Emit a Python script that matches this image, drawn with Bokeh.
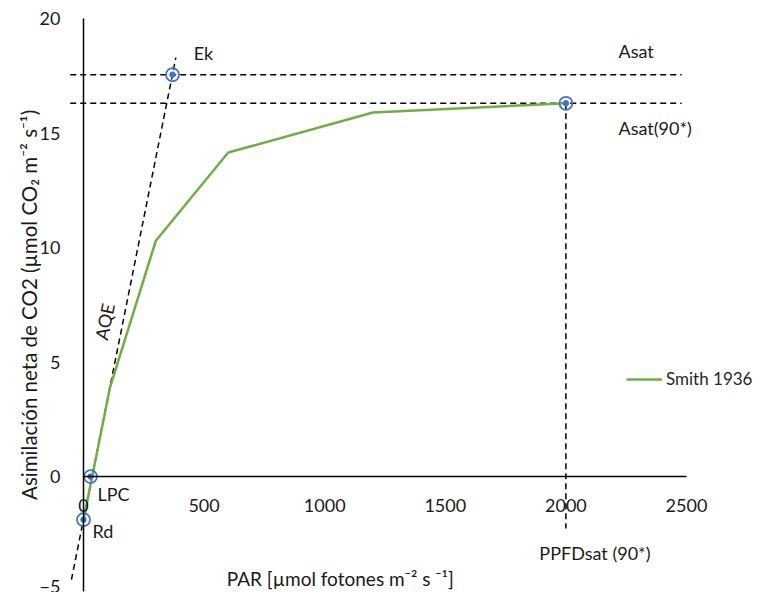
from bokeh.plotting import figure
from bokeh.models import Range1d, FixedTicker, LinearAxis, Legend, LegendItem
from bokeh.core.properties import value
from bokeh.embed import file_html
from bokeh.resources import INLINE

# ---- data ----
par = [0, 110, 300, 600, 1200, 2000]
a_net = [-1.9, 3.9, 10.3, 14.15, 15.9, 16.3]

x_ticks = [0, 500, 1000, 1500, 2000, 2500]
y_ticks = [-5, 0, 5, 10, 15, 20]

asat = 17.55
asat90 = 16.3
ppfdsat = 2000
ek = (369, 17.55)
lpc = (29, 0.0)
rd = (0, -1.88)

aqe_x = [-50, 383]
aqe_y = [-4.5, 18.3]
hline_x = [-55, 2480]
vline_y = [16.3, -2.27]

FONT = "Lato"
BLUE = "#4472C4"
GREEN = "#70AD47"
TXT = "#1a1a1a"

p = figure(width=764, height=592, x_range=Range1d(-344.1, 2823.4), y_range=Range1d(-5.06, 20.79),
           x_axis_location=None, y_axis_location=None, min_border=0,
           toolbar_location=None, output_backend="svg", outline_line_color=None)
p.xgrid.visible = False
p.ygrid.visible = False

xaxis = LinearAxis(fixed_location=0, ticker=FixedTicker(ticks=x_ticks), bounds=(0, 2500))
yaxis = LinearAxis(fixed_location=0, ticker=FixedTicker(ticks=y_ticks), bounds=(-5, 20))
for ax in (xaxis, yaxis):
    ax.axis_line_color = "black"
    ax.axis_line_width = 1.5
    ax.major_tick_line_color = None
    ax.minor_tick_line_color = None
    ax.major_label_text_font = FONT
    ax.major_label_text_font_size = "18px"
    ax.major_label_text_color = TXT
xaxis.major_label_standoff = 16
yaxis.major_label_standoff = 17
p.add_layout(xaxis, "below")
p.add_layout(yaxis, "left")

# guide lines
p.line(hline_x, [asat, asat], line_color="black", line_width=1.5, line_dash="6 4")
p.line(hline_x, [asat90, asat90], line_color="black", line_width=1.5, line_dash="6 4")
p.line([ppfdsat, ppfdsat], vline_y, line_color="black", line_width=1.5, line_dash="6 4")
p.line(aqe_x, aqe_y, line_color="black", line_width=1.5, line_dash="6 4")

# data line
green = p.line(par, a_net, line_color=GREEN, line_width=2.5)

# markers
mx = [rd[0], lpc[0], ek[0], ppfdsat]
my = [rd[1], lpc[1], ek[1], asat90]
p.scatter(mx, my, size=13, fill_color="white", fill_alpha=0.0, line_color=BLUE, line_width=1.8)
p.scatter(mx, my, size=5.5, fill_color=BLUE, line_color=BLUE)

# annotation texts
lab_x = [457, 2218, 2218, 58, 37, 1890]
lab_y = [18.5, 18.6, 15.24, -0.74, -2.36, -3.32]
lab_t = ["Ek", "Asat", "Asat(90*)", "LPC", "Rd", "PPFDsat (90*)"]
p.text(lab_x, lab_y, text=lab_t, text_font=value(FONT), text_font_size="18px",
       text_align="left", text_baseline="middle", text_color=TXT)

p.text([87], [6.77], text=["AQE"], angle=1.37, text_font=value(FONT), text_font_size="18px",
       text_align="center", text_baseline="middle", text_color=TXT)

p.text([594], [-4.45], text=["PAR [µmol fotones m⁻² s ⁻¹]"], text_font=value(FONT),
       text_font_size="19px", text_align="left", text_baseline="middle", text_color=TXT)

p.text([-228], [7.5], text=["Asimilación neta de CO2 (µmol CO₂ m⁻² s⁻¹)"], angle=1.5708,
       text_font=value(FONT), text_font_size="20.5px", text_align="center",
       text_baseline="middle", text_color=TXT)

legend = Legend(items=[LegendItem(label="Smith 1936", renderers=[green])], location=(626, 203),
                border_line_color=None, background_fill_alpha=0, padding=0, margin=0,
                glyph_width=36, glyph_height=20, label_standoff=4,
                label_text_font=FONT, label_text_font_size="17px", label_text_color="#262626")
p.add_layout(legend)

open("out.html", "w").write(file_html(p, INLINE))
